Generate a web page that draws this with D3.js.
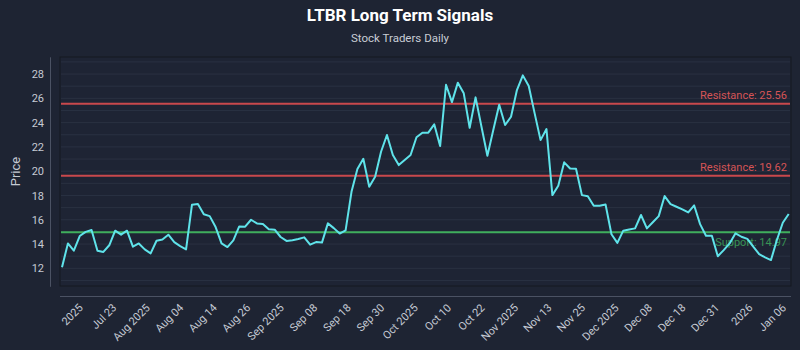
<!DOCTYPE html>
<html>
<head>
<meta charset="utf-8">
<script src="https://cdn.jsdelivr.net/npm/d3@7"></script>
<style>
  html, body { margin: 0; padding: 0; background: #1e2433; }
  svg { display: block; font-family: Roboto, "Noto Sans", sans-serif; }
</style>
</head>
<body>
<div id="chart"></div>
<script>
// LTBR daily closes (one value per trading day)
const prices = [
  12.08, 14.05, 13.45, 14.66, 15.0, 15.15, 13.45, 13.35, 13.9, 15.1,
  14.77, 15.1, 13.78, 14.05, 13.56, 13.23, 14.27, 14.38, 14.77, 14.16,
  13.83, 13.56, 17.24, 17.29, 16.45, 16.3, 15.4, 14.05, 13.75, 14.3,
  15.45, 15.43, 16.0, 15.7, 15.65, 15.22, 15.18, 14.58, 14.26, 14.32,
  14.41, 14.55, 13.95, 14.16, 14.12, 15.7, 15.31, 14.86, 15.13, 18.3,
  20.17, 21.02, 18.72, 19.54, 21.6, 22.98, 21.33, 20.5, 20.92, 21.33,
  22.79, 23.17, 23.17, 23.86, 22.07, 27.12, 25.69, 27.29, 26.41, 23.58,
  26.08, 23.66, 21.27, 23.39, 25.47, 23.8, 24.48, 26.68, 27.89, 27.01,
  24.76, 22.56, 23.47, 18.03, 18.8, 20.73, 20.22, 20.2, 18.03, 17.93,
  17.15, 17.15, 17.26, 14.81, 14.1, 15.1, 15.2, 15.29, 16.39, 15.29,
  15.8, 16.3, 17.95, 17.29, 17.07, 16.86, 16.6, 17.18, 15.64, 14.68,
  14.68, 13.0, 13.5, 14.05, 14.88, 14.6, 14.43, 13.78, 13.17, 12.9,
  12.68, 14.33, 15.75, 16.47
];

const tickLabels = ["2025", "Jul 23", "Aug 2025", "Aug 04", "Aug 14", "Aug 26",
  "Sep 2025", "Sep 08", "Sep 18", "Sep 30", "Oct 2025", "Oct 10", "Oct 22",
  "Nov 2025", "Nov 13", "Nov 25", "Dec 2025", "Dec 08", "Dec 18", "Dec 31",
  "2026", "Jan 06"];

const levelNames = ["Resistance", "Resistance", "Support"];
const levelValues = [25.56, 19.62, 14.97];

const width = 800, height = 350;
const plot = { left: 60, right: 791, top: 57, bottom: 286 };

const svg = d3.select("#chart").append("svg")
  .attr("width", width)
  .attr("height", height);

svg.append("rect")
  .attr("width", width).attr("height", height)
  .attr("fill", "#1e2433");

// title + subtitle
svg.append("text")
  .attr("x", width / 2).attr("y", 21)
  .attr("text-anchor", "middle")
  .attr("fill", "#ffffff")
  .style("font-size", "17px").style("font-weight", "bold")
  .text("LTBR Long Term Signals");

svg.append("text")
  .attr("x", width / 2).attr("y", 42)
  .attr("text-anchor", "middle")
  .attr("fill", "#c9cdd6")
  .style("font-size", "11.5px")
  .text("Stock Traders Daily");

// scales
const x = d3.scaleLinear()
  .domain([0, prices.length - 1])
  .range([plot.left + 2, plot.right - 2.3]);

const y = d3.scaleLinear()
  .domain([10.52, 29.42])
  .range([plot.bottom + 0.3, plot.top - 0.2]);

// tick labels are spread evenly from the 4th to the 3rd-last trading day
const xTicks = d3.scalePoint()
  .domain(tickLabels)
  .range([x(3), x(prices.length - 2)]);

// plot background + frame
svg.append("rect")
  .attr("x", plot.left).attr("y", plot.top)
  .attr("width", plot.right - plot.left)
  .attr("height", plot.bottom - plot.top)
  .attr("fill", "#1e2434")
  .attr("stroke", "#141820")
  .attr("stroke-width", 1);

// horizontal grid, one line per dollar
const grid = svg.append("g");
grid.selectAll("line")
  .data(d3.range(11, 30))
  .enter().append("line")
  .attr("x1", plot.left + 1).attr("x2", plot.right - 1)
  .attr("y1", d => y(d)).attr("y2", d => y(d))
  .attr("stroke", "#2a3142")
  .attr("stroke-width", 1);

// y axis
const yAxis = svg.append("g")
  .attr("transform", "translate(50,0)")
  .call(d3.axisLeft(y).ticks(10).tickSize(0).tickPadding(6));
yAxis.select(".domain").attr("stroke", "#4b5263");
yAxis.selectAll("text")
  .attr("fill", "#c5cad3")
  .style("font-size", "11px")
  .style("font-family", "Roboto, sans-serif");

svg.append("text")
  .attr("transform", "translate(20," + ((plot.top + plot.bottom) / 2) + ") rotate(-90)")
  .attr("text-anchor", "middle")
  .attr("fill", "#c5cad3")
  .style("font-size", "13px")
  .text("Price");

// x axis
svg.append("line")
  .attr("x1", plot.left).attr("x2", plot.right)
  .attr("y1", 296.5).attr("y2", 296.5)
  .attr("stroke", "#4b5263");

const xAxis = svg.append("g")
  .attr("transform", "translate(0,297)")
  .call(d3.axisBottom(xTicks).tickSize(0));
xAxis.select(".domain").remove();
xAxis.selectAll("text")
  .attr("fill", "#c5cad3")
  .style("font-size", "11px")
  .style("font-family", "Roboto, sans-serif")
  .attr("text-anchor", "end")
  .attr("x", 0).attr("y", 0).attr("dy", "0.32em")
  .attr("transform", "translate(1,9) rotate(-45)");

// support / resistance levels
const levelColor = name => name === "Support" ? "#3fae5c" : "#c9484c";
const levelText = name => name === "Support" ? "#3fae5c" : "#d65456";

const levels = svg.append("g");
levels.selectAll("line")
  .data(levelValues)
  .enter().append("line")
  .attr("x1", plot.left + 1).attr("x2", plot.right - 1)
  .attr("y1", d => y(d)).attr("y2", d => y(d))
  .attr("stroke", (d, i) => levelColor(levelNames[i]))
  .attr("stroke-width", 2);

levels.selectAll("text")
  .data(levelValues)
  .enter().append("text")
  .attr("x", plot.right - 4)
  .attr("y", (d, i) => levelNames[i] === "Support" ? y(d) + 14 : y(d) - 5)
  .attr("text-anchor", "end")
  .attr("fill", (d, i) => levelText(levelNames[i]))
  .attr("opacity", (d, i) => levelNames[i] === "Support" ? 0.8 : 1)
  .style("font-size", "11px")
  .text((d, i) => levelNames[i] + ": " + d.toFixed(2));

// price line
const line = d3.line()
  .x((d, i) => x(i))
  .y(d => y(d));

svg.append("path")
  .datum(prices)
  .attr("d", line)
  .attr("fill", "none")
  .attr("stroke", "#5fe3ea")
  .attr("stroke-width", 2)
  .attr("stroke-linejoin", "round");
</script>
</body>
</html>
